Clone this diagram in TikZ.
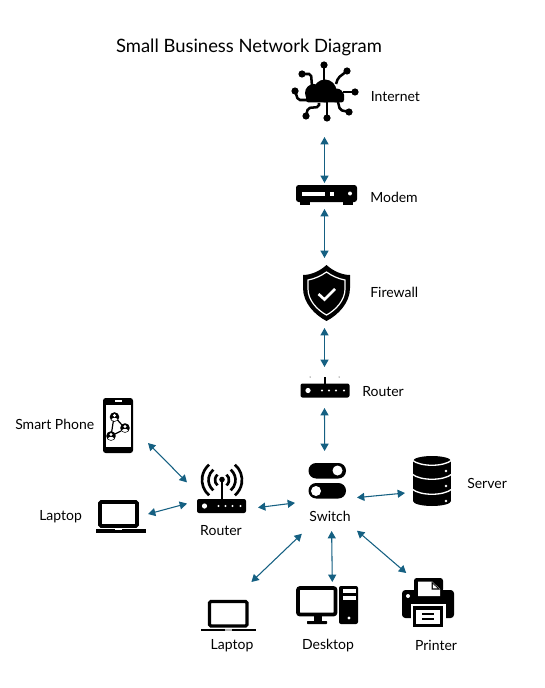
\documentclass[tikz,border=0pt]{standalone}
\usepackage{fontspec}
\setmainfont{Lato}
\usetikzlibrary{arrows.meta}
\definecolor{linkblue}{HTML}{156082}
\tikzset{
	iconbox/.style 2 args={minimum width=#1*0.75pt, minimum height=#2*0.75pt, inner sep=0pt, outer sep=0pt},
	labeltext/.style={font=\fontsize{10.5pt}{12pt}\selectfont, inner sep=0pt},
	link/.style={{Triangle[length=5.5pt,width=6pt]}-{Triangle[length=5.5pt,width=6pt]}, linkblue, line width=0.8pt},
	trace/.style={line width=1.9pt, rounded corners=1.5pt},
	pics/routerbody/.style={code={
		\fill[rounded corners=1.5pt] (-24.5,-7) rectangle (24.5,7);
		\fill[white] (-17,0) circle (2.6);
		\foreach \dotx in {-3,4,11,19} \fill[white] (\dotx,0) circle (1.1);
	}},
	pics/person/.style={code={
		\fill (0,0) circle (4.8);
		\fill[white] (0,-1.5) circle (1.6);
		\fill[white] (0,2.4) ellipse (2.9 and 1.5);
	}}
}
\begin{document}
\begin{tikzpicture}[x=0.75pt, y=-0.75pt]
	\path[use as bounding box] (0,0) rectangle (545,688);

	% hidden boxes that the links end on
	\node[iconbox={72}{90}] (internet) at (324.5,92) {};
	\node[iconbox={62}{26}] (modem) at (324.5,196) {};
	\node[iconbox={50}{70}] (firewall) at (324.5,293) {};
	\node[iconbox={50}{41}] (router) at (324.5,387.5) {};
	\node[iconbox={62}{80}] (switch) at (326,491) {};
	\node[iconbox={71}{40}] (wifi) at (222.5,496) {};
	\node[iconbox={60}{56}] (phone) at (118,425) {};
	\node[iconbox={56}{40}] (laptopa) at (120,516) {};
	\node[iconbox={54}{50}] (server) at (432,481) {};
	\node[iconbox={56}{64}] (laptopb) at (229,614) {};
	\node[iconbox={62}{46}] (desktop) at (327,605) {};
	\node[iconbox={52}{60}] (printer) at (428,603) {};

	% labels
	\node[labeltext, font=\fontsize{13.8pt}{16pt}\selectfont] (title) at (249,47.5) {Small Business Network Diagram};
	\node[labeltext, anchor=west] (internetlabel) at (370.5,96.5) {Internet};
	\node[labeltext, anchor=west] (modemlabel) at (370,197.5) {Modem};
	\node[labeltext, anchor=west] (firewalllabel) at (370,292.5) {Firewall};
	\node[labeltext, anchor=west] (routerlabel) at (362,391.5) {Router};
	\node[labeltext, anchor=west] (phonelabel) at (15,424.5) {Smart Phone};
	\node[labeltext, anchor=west] (laptopalabel) at (39,516.5) {Laptop};
	\node[labeltext] (wifilabel) at (221,530.5) {Router};
	\node[labeltext] (switchlabel) at (330,516.5) {Switch};
	\node[labeltext, anchor=west] (serverlabel) at (467,483.5) {Server};
	\node[labeltext] (laptopblabel) at (232,645.5) {Laptop};
	\node[labeltext] (desktoplabel) at (328,645.5) {Desktop};
	\node[labeltext] (printerlabel) at (436,645.5) {Printer};

	% links
	\draw[link] (internet.south) -- (modem.north);
	\draw[link] (modem.south) -- (firewall.north);
	\draw[link] (firewall.south) -- (router.north);
	\draw[link] (router.south) -- (switch.92.9);
	\draw[link] (phone.-31) -- (wifi.159.6);
	\draw[link] (laptopa.4.1) -- (wifi.192.9);
	\draw[link] (wifi.-18.7) -- (switch.201.2);
	\draw[link] (switch.-12.7) -- (server.204);
	\draw[link, shorten <=3pt] (switch.242.4) -- (laptopb.55.5);
	\draw[link] (switch.-82.9) -- (desktop.77.7);
	\draw[link] (switch.-52.2) -- (printer.126.3);

	% internet
	\fill (325,91) circle (11.5);
	\fill (314,93) circle (9);
	\fill (336.5,95.5) circle (7);
	\fill[rounded corners=2pt] (306,92) rectangle (344,102.5);
	\draw[trace] (324,65) -- (324,80);
	\draw[trace] (302,74) -- (311,74) -- (312,86);
	\draw[trace] (347,71) -- (338,78) -- (336,84);
	\draw[trace] (295,91) -- (298,100) -- (307,100);
	\draw[trace] (355,92) -- (343,92);
	\draw[trace] (306,116) -- (308,108) -- (319,107) -- (319,103);
	\draw[trace] (327,118) -- (327,102);
	\draw[trace] (349,112) -- (340,110) -- (338,102);
	\foreach \dotx/\doty in {324/65,302/74,347/71,295/91,355/92,306/116,327/118,349/112}
		\fill (\dotx,\doty) circle (3.6);

	% modem
	\fill[rounded corners=2pt] (296,185) rectangle (357,202);
	\fill (300,202) rectangle (310,204.5);
	\fill (343,202) rectangle (353,204.5);
	\fill[white] (302,192) rectangle (325,195.5);
	\fill[white] (330,192) rectangle (334,195.5);
	\fill[white] (350,193.5) circle (2);

	% firewall
	\fill (326.5,265) .. controls (320,271) and (311,275) .. (303,275) -- (303,288) .. controls (303,303) and (315,315) .. (326.5,321) .. controls (338,315) and (350,303) .. (350,288) -- (350,275) .. controls (342,275) and (333,271) .. (326.5,265) -- cycle;
	\draw[white, line width=0.9pt] (326.5,272) .. controls (321,276) and (314,279) .. (308,280) -- (308,289) .. controls (308,300) and (317,310) .. (326.5,315) .. controls (336,310) and (345,300) .. (345,289) -- (345,280) .. controls (339,279) and (332,276) .. (326.5,272) -- cycle;
	\draw[white, line width=2pt] (318.5,294) -- (324.5,299.5) -- (335,289);

	% router
	\pic at (325,390.5) {routerbody};
	\fill (323.7,377) rectangle (326.3,384);
	\fill (310,377) circle (0.5);
	\fill (339,377) circle (0.5);

	% second router
	\pic at (221.5,506) {routerbody};
	\fill (220.7,480) rectangle (223.3,499);
	\fill (222,479.5) circle (2.8);
	\foreach \wave in {7,13.5,20} {
		\draw[line width=2pt] (222,480) ++(130:\wave) arc (130:230:\wave);
		\draw[line width=2pt] (222,480) ++(-50:\wave) arc (-50:50:\wave);
	}

	% smart phone
	\fill[rounded corners=2pt] (103,398) rectangle (133,453);
	\fill[white] (105.5,405) rectangle (131,447);
	\fill[white] (115,400.3) rectangle (122,401.8);
	\draw[line width=0.9pt] (113.5,420) -- (111.5,433);
	\draw[line width=0.9pt] (117.5,420) -- (122,425);
	\draw[line width=0.9pt] (115,434) -- (121,431);
	\pic at (114.5,417) {person};
	\pic at (125,428) {person};
	\pic at (111,436) {person};

	% laptop on the left
	\draw[line width=2.8pt, rounded corners=1pt] (100,502) rectangle (137,526);
	\fill (96,529) rectangle (146,533);
	\fill[white] (115,529) rectangle (122,530.2);

	% switch
	\fill[rounded corners=5.7pt] (308.5,463) rectangle (346,478.5);
	\fill[white] (337.5,470.5) circle (5);
	\fill[rounded corners=5.7pt] (308.5,483) rectangle (346,498.5);
	\fill[white] (316,491) circle (5);

	% server
	\fill (432,461) ellipse (19 and 5);
	\fill (413,461) rectangle (451,501);
	\fill (432,501) ellipse (19 and 5);
	\foreach \doty in {460,474,489}
		\draw[white, line width=1pt] (412,\doty) .. controls (420,\doty+7) and (444,\doty+7) .. (452,\doty);
	\foreach \doty in {471,486,501} \fill[white] (446,\doty) circle (1.4);

	% laptop at the bottom
	\draw[line width=2.4pt, rounded corners=1pt] (209.5,601.5) rectangle (247,626);
	\fill (201,629.3) rectangle (256,630.8);
	\fill[white!70!black] (225,629.3) rectangle (232,630.8);

	% desktop
	\draw[line width=2.8pt, rounded corners=1.5pt] (298,588) rectangle (335.5,614.5);
	\fill (314,616) rectangle (322,621);
	\fill[rounded corners=0.5pt] (307,621) rectangle (327,624);
	\fill[rounded corners=1.5pt] (339,586) rectangle (358,624);
	\fill[white] (343,589) rectangle (356,593);
	\fill[white] (343,595.5) rectangle (356,600);
	\fill[white] (349,618) circle (1.6);

	% printer
	\fill[rounded corners=2pt] (414,578) rectangle (443,592);
	\fill[rounded corners=2.5pt] (402,590) rectangle (454,618);
	\fill[white] (418,581.5) -- (432,581.5) -- (440,589) -- (440,596) -- (418,596) -- cycle;
	\fill (431.5,581.5) -- (431.5,589.5) -- (440,589.5) -- cycle;
	\fill[white] (432.8,584) -- (432.8,588.3) -- (437.5,588.3) -- cycle;
	\fill[white] (408,596) circle (2);
	\fill[white] (411,604) rectangle (446,628);
	\fill (413,606) rectangle (443,627);
	\fill[white] (416,610) rectangle (440,624);
	\fill (422,613) rectangle (434,615);
	\fill (422,618) rectangle (434,620);
\end{tikzpicture}
\end{document}
